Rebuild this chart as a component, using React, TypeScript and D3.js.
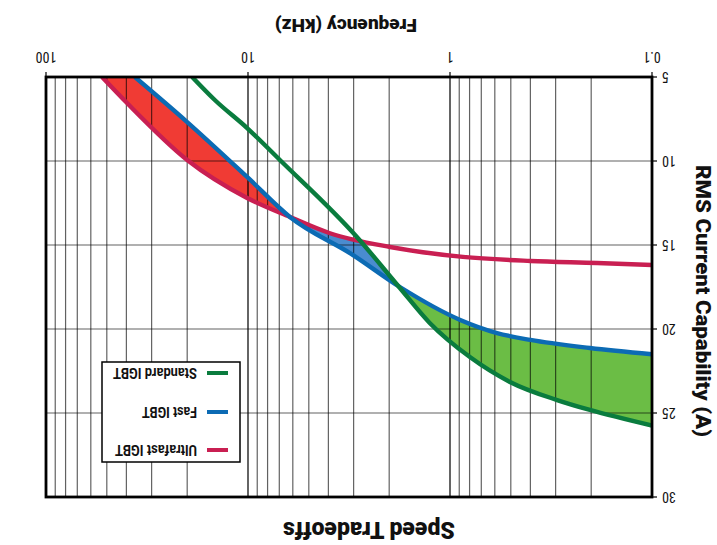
import React from "react";
import * as d3 from "d3";

const W = 717;
const H = 545;

// Frequency (kHz) and RMS current capability (A)
const ultrafastFreq = [0.1, 0.187, 0.4, 0.863, 1.98, 3.93, 6.2, 10.1, 20, 39.7, 52.8];
const ultrafastAmps = [16.19, 16.07, 15.95, 15.71, 15.12, 14.3, 13.33, 12.2, 9.94, 6.55, 5.0];

const fastFreq = [0.1, 0.203, 0.4, 0.585, 0.89, 1.77, 3.02, 6.2, 10.1, 20, 36.3];
const fastAmps = [21.5, 21.13, 20.65, 20.24, 19.46, 17.5, 15.6, 13.33, 10.95, 7.68, 5.0];

const standardFreq = [0.1, 0.203, 0.295, 0.505, 0.797, 1.26, 1.77, 2.89, 6.95, 10.1, 14.6, 18.9];
const standardAmps = [25.75, 24.82, 24.23, 23.15, 21.67, 19.64, 17.56, 14.52, 9.94, 8.04, 6.37, 5.0];

const xTicks = [0.1, 1, 10, 100];
const xTickLabels = ["0.1", "1", "10", "100"];
const yTicks = [5, 10, 15, 20, 25, 30];

const seriesNames = ["Ultrafast IGBT", "Fast IGBT", "Standard IGBT"];
const lineColors = ["#c91f52", "#0c6bb4", "#0a7c3e"];
const fillColors = ["#f03b34", "#4a8ccf", "#6bbd45"];

const L = 65, R = 671, T = 48, B = 468;

export default function App() {
  const x = d3.scaleLog().domain([0.1, 100]).range([L, R]);
  const y = d3.scaleLinear().domain([5, 30]).range([B, T]);

  const pts = (f: number[], a: number[]) => f.map((v, i) => [v, a[i]] as [number, number]);
  const series = [
    pts(ultrafastFreq, ultrafastAmps),
    pts(fastFreq, fastAmps),
    pts(standardFreq, standardAmps),
  ];

  const line = d3
    .line<[number, number]>()
    .x((d) => x(d[0]))
    .y((d) => y(d[1]))
    .curve(d3.curveMonotoneX);

  // region with current below the curve (towards A = 5)
  const belowPath = (p: [number, number][]) => {
    const last = p[p.length - 1];
    return `${line(p)}L${x(last[0])},${B + 10}L${L - 10},${B + 10}L${L - 10},${y(p[0][1])}Z`;
  };
  // region with current above the curve (towards A = 30)
  const abovePath = (p: [number, number][]) => {
    const last = p[p.length - 1];
    return `${line(p)}L${x(last[0])},${B + 10}L${R + 10},${B + 10}L${R + 10},${T - 10}L${L - 10},${T - 10}L${L - 10},${y(p[0][1])}Z`;
  };

  const minorX: number[] = [];
  for (const dec of [0.1, 1, 10]) {
    for (let k = 1; k <= 10; k++) minorX.push(dec * k);
  }

  const clipNest = (ids: string[], child: React.ReactNode): React.ReactNode =>
    ids.reduceRight<React.ReactNode>((acc, id) => <g clipPath={`url(#${id})`}>{acc}</g>, child);

  const plotRect = (color: string) => (
    <rect x={L} y={T} width={R - L} height={B - T} fill={color} />
  );

  const legendY = [95, 133, 172];
  const legendW = [82, 55, 84];

  return (
    <svg
      width={W}
      height={H}
      style={{ position: "absolute", left: 0, top: 0, background: "#fff" }}
      xmlns="http://www.w3.org/2000/svg"
    >
      <defs>
        {series.map((p, i) => (
          <React.Fragment key={i}>
            <clipPath id={`below${i}`}>
              <path d={belowPath(p)} />
            </clipPath>
            <clipPath id={`above${i}`}>
              <path d={abovePath(p)} />
            </clipPath>
          </React.Fragment>
        ))}
        <clipPath id="plot">
          <rect x={L} y={T} width={R - L} height={B - T} />
        </clipPath>
      </defs>
      <rect width={W} height={H} fill="#fff" />
      <g transform={`rotate(180 ${W / 2} ${H / 2})`}>
        {/* fills: best technology vs. next best */}
        {clipNest(["below0", "above1"], plotRect(fillColors[0]))}
        {clipNest(["below1", "above0", "above2"], plotRect(fillColors[1]))}
        {clipNest(["below2", "above1", "above0"], plotRect(fillColors[2]))}

        {/* grid */}
        <g stroke="#000" strokeOpacity={0.62} strokeWidth={1.2}>
          {minorX.map((v, i) => (
            <line key={i} x1={x(v)} x2={x(v)} y1={T} y2={B} />
          ))}
          {yTicks.map((v) => (
            <line key={v} x1={L} x2={R} y1={y(v)} y2={y(v)} />
          ))}
        </g>

        {/* curves */}
        <g clipPath="url(#plot)" fill="none" strokeWidth={4.4}>
          {series.map((p, i) => (
            <path key={i} d={line(p) || ""} stroke={lineColors[i]} />
          ))}
        </g>

        {/* frame */}
        <rect x={L} y={T} width={R - L} height={B - T} fill="none" stroke="#000" strokeWidth={2.8} />

        {/* ticks */}
        <g stroke="#000" strokeWidth={1.2}>
          {xTicks.map((v) => (
            <line key={v} x1={x(v)} x2={x(v)} y1={B} y2={B + 5} />
          ))}
          {yTicks.map((v) => (
            <line key={v} x1={L - 5} x2={L} y1={y(v)} y2={y(v)} />
          ))}
        </g>
        <g fontFamily="'Liberation Sans Narrow', 'Roboto Condensed', Roboto, sans-serif" fontSize={14} fill="#111">
          {xTicks.map((v, i) => (
            <text key={v} x={x(v)} y={493} textAnchor="middle">
              {xTickLabels[i]}
            </text>
          ))}
          {yTicks.map((v) => (
            <text key={v} x={55} y={y(v) + 5} textAnchor="end">
              {v}
            </text>
          ))}
        </g>

        {/* titles */}
        <g fontFamily="Roboto, 'Liberation Sans', sans-serif" fontWeight="900" fill="#111">
          <text x={348} y={23} fontSize={24} textAnchor="middle" textLength={172} lengthAdjust="spacingAndGlyphs">
            Speed Tradeoffs
          </text>
          <text x={371} y={526} fontSize={18} textAnchor="middle" textLength={142} lengthAdjust="spacingAndGlyphs">
            Frequency (kHz)
          </text>
          <text
            transform="translate(21.5,244) rotate(-90)"
            fontSize={20}
            textAnchor="middle"
            textLength={272}
            lengthAdjust="spacingAndGlyphs"
          >
            RMS Current Capability (A)
          </text>
        </g>

        {/* legend */}
        <g>
          <rect x={477} y={83} width={138} height={100} fill="#fff" stroke="#000" strokeWidth={1.5} />
          {seriesNames.map((n, i) => (
            <g key={n}>
              <line x1={489} x2={510} y1={legendY[i]} y2={legendY[i]} stroke={lineColors[i]} strokeWidth={4} />
              <text
                x={520}
                y={legendY[i] + 5}
                fontFamily="Roboto, 'Liberation Sans', sans-serif"
                fontWeight="bold"
                fontSize={14}
                fill="#111"
                textLength={legendW[i]}
                lengthAdjust="spacingAndGlyphs"
              >
                {n}
              </text>
            </g>
          ))}
        </g>
      </g>
    </svg>
  );
}
